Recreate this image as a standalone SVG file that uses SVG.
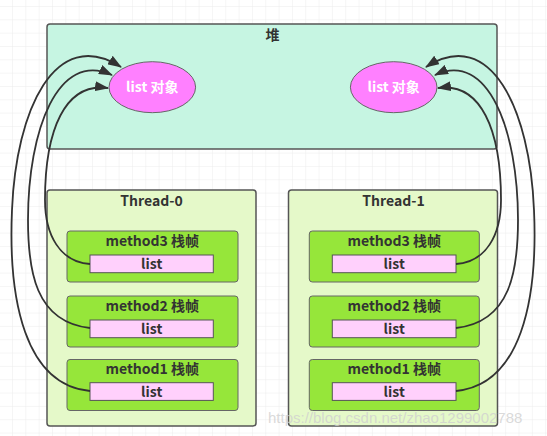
<svg xmlns="http://www.w3.org/2000/svg" width="547" height="436" viewBox="0 0 547 436">
<defs>
<pattern id="grid" x="12" y="6" width="13.33" height="13.33" patternUnits="userSpaceOnUse">
<path d="M13.33 0 L0 0 0 13.33" fill="none" stroke="#ececec" stroke-width="1"/>
</pattern>
<marker id="arr" viewBox="0 0 14 10" refX="13" refY="5" markerWidth="14" markerHeight="10" markerUnits="userSpaceOnUse" orient="auto">
<path d="M0 0 L14 5 L0 10 Z" fill="#333"/>
</marker>
<style>
.t{font-family:"Noto Sans CJK SC","Liberation Sans",sans-serif;font-weight:bold;font-size:14px;fill:#333;text-anchor:middle}
.w{fill:#fff}
.heap{fill:#c6f5e2;stroke:#555;stroke-width:1.5}
.thr{fill:#e5f9c9;stroke:#555;stroke-width:1.5}
.frm{fill:#96e63a;stroke:#666;stroke-width:1}
.lst{fill:#ffd0fc;stroke:#555;stroke-width:1}
.obj{fill:#ff80ff;stroke:#666;stroke-width:1}
.c{fill:none;stroke:#333;stroke-width:1.8;marker-end:url(#arr)}
</style>
</defs>
<rect width="547" height="436" fill="#fff"/>
<rect width="547" height="436" fill="url(#grid)"/>

<g id="heap">
<rect class="heap" x="47" y="24" width="450" height="125" rx="3"/>
<text class="t" x="272.5" y="40">堆</text>
</g>
<g id="obj0">
<ellipse class="obj" cx="152.3" cy="87.2" rx="43.3" ry="25.5"/>
<text class="t w" x="152.3" y="92">list 对象</text>
</g>
<g id="obj1">
<ellipse class="obj" cx="393.7" cy="87.2" rx="43.3" ry="25.5"/>
<text class="t w" x="393.7" y="92">list 对象</text>
</g>

<g id="thread0">
<rect class="thr" x="47" y="190" width="209" height="236" rx="3"/>
<text class="t" x="151.5" y="206">Thread-0</text>
</g>
<g id="t0m3">
<rect class="frm" x="67" y="231" width="171" height="51" rx="3"/>
<text class="t" x="152.3" y="245.5">method3 栈帧</text>
<rect class="lst" x="90" y="255" width="123.3" height="17.7"/>
<text class="t" x="151.7" y="269">list</text>
</g>
<g id="t0m2">
<rect class="frm" x="67" y="296" width="171" height="51" rx="3"/>
<text class="t" x="152.3" y="310.5">method2 栈帧</text>
<rect class="lst" x="90" y="320" width="123.3" height="17.7"/>
<text class="t" x="151.7" y="334">list</text>
</g>
<g id="t0m1">
<rect class="frm" x="67" y="359.5" width="171" height="51" rx="3"/>
<text class="t" x="152.3" y="374">method1 栈帧</text>
<rect class="lst" x="90" y="382.7" width="123.3" height="17.7"/>
<text class="t" x="151.7" y="396.5">list</text>
</g>

<g id="thread1">
<rect class="thr" x="288.5" y="190" width="209" height="236" rx="3"/>
<text class="t" x="393.5" y="206">Thread-1</text>
</g>
<g id="t1m3">
<rect class="frm" x="309.3" y="231" width="170" height="51" rx="3"/>
<text class="t" x="394.3" y="245.5">method3 栈帧</text>
<rect class="lst" x="332.3" y="255" width="123.7" height="17.7"/>
<text class="t" x="394.2" y="269">list</text>
</g>
<g id="t1m2">
<rect class="frm" x="309.3" y="296" width="170" height="51" rx="3"/>
<text class="t" x="394.3" y="310.5">method2 栈帧</text>
<rect class="lst" x="332.3" y="320" width="123.7" height="17.7"/>
<text class="t" x="394.2" y="334">list</text>
</g>
<g id="t1m1">
<rect class="frm" x="309.3" y="359.5" width="170" height="51" rx="3"/>
<text class="t" x="394.3" y="374">method1 栈帧</text>
<rect class="lst" x="332.3" y="382.7" width="123.7" height="17.7"/>
<text class="t" x="394.2" y="396.5">list</text>
</g>

<g id="connectors">
<path class="c" d="M90,391 C25,385 8,300 12,210 C16,110 55,25 121,67"/>
<path class="c" d="M90,328 C35,322 28,270 28,220 C28,130 58,50 112,75"/>
<path class="c" d="M90,264 C60,262 45,235 45,200 C45,130 65,82 108,88"/>
<path class="c" d="M456,391 C521,385 538,300 534,210 C530,110 491,25 426,67"/>
<path class="c" d="M456,328 C511,322 518,270 518,220 C518,130 488,50 435,75"/>
<path class="c" d="M456,264 C486,262 501,235 501,200 C501,130 481,82 438,88"/>
</g>

<text x="268" y="423" font-family="'Liberation Sans',sans-serif" font-size="15" fill="#d0d0d0" fill-opacity="0.8">https://blog.csdn.net/zhao1299002788</text>
</svg>
